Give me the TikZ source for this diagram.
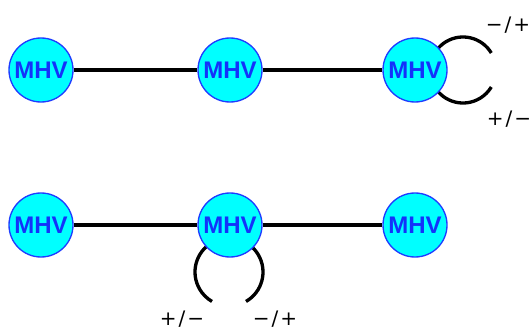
\documentclass[tikz,border=0pt]{standalone}
\usepackage{fontspec}
\setmainfont{Liberation Sans}
\newfontfamily\signfont{DejaVu Sans}
\usetikzlibrary{backgrounds}
\definecolor{mhvCyan}{RGB}{0,255,255}
\definecolor{mhvBlue}{RGB}{30,60,255}
\definecolor{mhvText}{RGB}{20,50,250}
\tikzset{
  mhv/.style={circle, draw=mhvBlue, line width=1pt, fill=mhvCyan,
    minimum size=48pt, inner sep=0pt, text=mhvText,
    font=\fontsize{18}{18}\selectfont\bfseries},
  prop/.style={line width=2.5pt, draw=black},
  selfloop/.style={line width=2.5pt, draw=black},
  sign label/.style={font=\signfont\fontsize{15}{15}\selectfont, inner sep=0pt}
}
\newcommand{\sgn}[3]{#1\kern1.5pt#2\kern1.5pt#3}
\begin{document}
\begin{tikzpicture}[x=0.75pt,y=0.75pt]
  \useasboundingbox (0,0) rectangle (531,329);

  % upper row
  \node[mhv] (a1) at (41,259) {MHV};
  \node[mhv] (a2) at (230,259) {MHV};
  \node[mhv] (a3) at (415,259) {MHV};
  \draw[prop] (a1) -- (a2);
  \draw[prop] (a2) -- (a3);
  \coordinate (aloop) at (463,259);
  \begin{pgfonlayer}{background}
    \draw[selfloop] (aloop) ++(31:33) arc[start angle=31, end angle=329, radius=33];
  \end{pgfonlayer}
  \node[sign label] (aup) at (508,304) {\sgn{−}{/}{+}};
  \node[sign label] (adown) at (509,210) {\sgn{+}{/}{−}};

  % lower row
  \node[mhv] (b1) at (41,104) {MHV};
  \node[mhv] (b2) at (230,104) {MHV};
  \node[mhv] (b3) at (415,104) {MHV};
  \draw[prop] (b1) -- (b2);
  \draw[prop] (b2) -- (b3);
  \coordinate (bloop) at (229,57);
  \begin{pgfonlayer}{background}
    \draw[selfloop] (bloop) ++(-60:34) arc[start angle=-60, end angle=240, radius=34];
  \end{pgfonlayer}
  \node[sign label] (bleft) at (182,10) {\sgn{+}{/}{−}};
  \node[sign label] (bright) at (275,10) {\sgn{−}{/}{+}};
\end{tikzpicture}
\end{document}
